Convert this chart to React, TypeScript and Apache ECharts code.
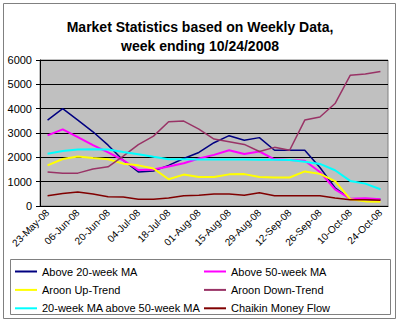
import React, { useEffect, useRef } from "react";
import * as echarts from "echarts";

const weeks = [
  "23-May-08", "30-May-08", "06-Jun-08", "13-Jun-08", "20-Jun-08", "27-Jun-08",
  "04-Jul-08", "11-Jul-08", "18-Jul-08", "25-Jul-08", "01-Aug-08", "08-Aug-08",
  "15-Aug-08", "22-Aug-08", "29-Aug-08", "05-Sep-08", "12-Sep-08", "19-Sep-08",
  "26-Sep-08", "03-Oct-08", "10-Oct-08", "17-Oct-08", "24-Oct-08",
];

const above20 = [3530, 4000, 3530, 3050, 2500, 1880, 1400, 1440, 1670, 1950, 2200, 2600, 2890, 2700, 2810, 2290, 2290, 2290, 1580, 750, 290, 280, 270];
const above50 = [2900, 3150, 2830, 2500, 2200, 1880, 1480, 1500, 1620, 1760, 1950, 2100, 2290, 2140, 2240, 1920, 1890, 1860, 1400, 680, 300, 320, 280];
const aroonUp = [1670, 1930, 2030, 1970, 1920, 1740, 1670, 1540, 1100, 1290, 1190, 1190, 1300, 1310, 1190, 1170, 1170, 1420, 1320, 1020, 280, 190, 170];
const aroonDown = [1400, 1350, 1350, 1520, 1610, 2050, 2520, 2870, 3460, 3490, 3160, 2750, 2640, 2530, 2240, 2410, 2290, 3530, 3660, 4210, 5370, 5420, 5530];
const ma20Above50 = [2150, 2260, 2320, 2330, 2320, 2220, 2130, 2020, 1920, 1920, 1910, 1910, 1910, 1910, 1900, 1900, 1890, 1820, 1730, 1470, 1030, 920, 690];
const chaikin = [420, 510, 580, 490, 380, 370, 280, 280, 330, 420, 440, 490, 490, 440, 540, 420, 420, 420, 420, 330, 260, 260, 240];

const seriesNames = [
  "Above 20-week MA",
  "Above 50-week MA",
  "Aroon Up-Trend",
  "Aroon Down-Trend",
  "20-week MA above 50-week MA",
  "Chaikin Money Flow",
];
const seriesData = [above20, above50, aroonUp, aroonDown, ma20Above50, chaikin];
const seriesColors = ["#000080", "#FF00FF", "#FFFF00", "#993366", "#00FFFF", "#800000"];
const seriesWidths = [1.5, 2, 2, 1.5, 2, 1.5];

const FONT = "'Liberation Sans', Arial, sans-serif";

export default function App() {
  const ref = useRef<HTMLDivElement>(null);
  useEffect(() => {
    if (!ref.current) return;
    const chart = echarts.init(ref.current, undefined, { renderer: "svg" });
    const legendText = { color: "#000", fontSize: 11, fontFamily: FONT };
    const legendBase = {
      orient: "vertical",
      top: 266,
      height: 60,
      itemWidth: 22,
      itemHeight: 10,
      itemGap: 7.4,
      padding: 0,
      textStyle: legendText,
      itemStyle: { opacity: 0 },
    };
    chart.setOption({
      animation: false,
      backgroundColor: "#fff",
      title: {
        text: "Market Statistics based on Weekly Data,\nweek ending 10/24/2008",
        left: "center",
        top: 12,
        textStyle: {
          fontSize: 14,
          fontWeight: "bold",
          fontFamily: FONT,
          color: "#000",
          lineHeight: 19,
        },
      },
      grid: {
        left: 40,
        right: 12,
        top: 60,
        bottom: 116,
        show: true,
        backgroundColor: "#C0C0C0",
        borderColor: "#808080",
        borderWidth: 1,
      },
      legend: [
        { ...legendBase, left: 14, data: [seriesNames[0], seriesNames[2], seriesNames[4]] },
        { ...legendBase, left: 203, data: [seriesNames[1], seriesNames[3], seriesNames[5]] },
      ],
      xAxis: {
        type: "category",
        data: weeks,
        boundaryGap: true,
        axisLine: { lineStyle: { color: "#000", width: 1 } },
        axisTick: { interval: 0, length: 4, lineStyle: { color: "#000" } },
        axisLabel: {
          interval: 1,
          rotate: 45,
          fontSize: 10,
          fontFamily: FONT,
          color: "#000",
          margin: 5,
        },
      },
      yAxis: {
        type: "value",
        min: 0,
        max: 6000,
        interval: 1000,
        axisLine: { show: true, lineStyle: { color: "#000", width: 1 } },
        axisTick: { show: true, length: 4, lineStyle: { color: "#000" } },
        axisLabel: {
          fontSize: 11,
          fontFamily: FONT,
          color: "#000",
          margin: 8,
          formatter: (v: number) => String(v),
        },
        splitLine: { show: true, lineStyle: { color: "#000", width: 1 } },
      },
      series: seriesNames.map((name, i) => ({
        name,
        type: "line",
        data: seriesData[i],
        symbol: "none",
        showSymbol: false,
        color: seriesColors[i],
        lineStyle: { color: seriesColors[i], width: seriesWidths[i] },
      })),
      graphic: [
        {
          type: "rect",
          shape: { x: 3.5, y: 3.5, width: 392, height: 315 },
          style: { fill: "none", stroke: "#808080", lineWidth: 1 },
          silent: true,
        },
        {
          type: "rect",
          shape: { x: 10.5, y: 259.5, width: 380, height: 55 },
          style: { fill: "none", stroke: "#808080", lineWidth: 1 },
          silent: true,
        },
      ],
    });
    return () => chart.dispose();
  }, []);
  return (
    <div
      ref={ref}
      style={{ position: "fixed", left: 0, top: 0, width: 400, height: 322 }}
    />
  );
}
